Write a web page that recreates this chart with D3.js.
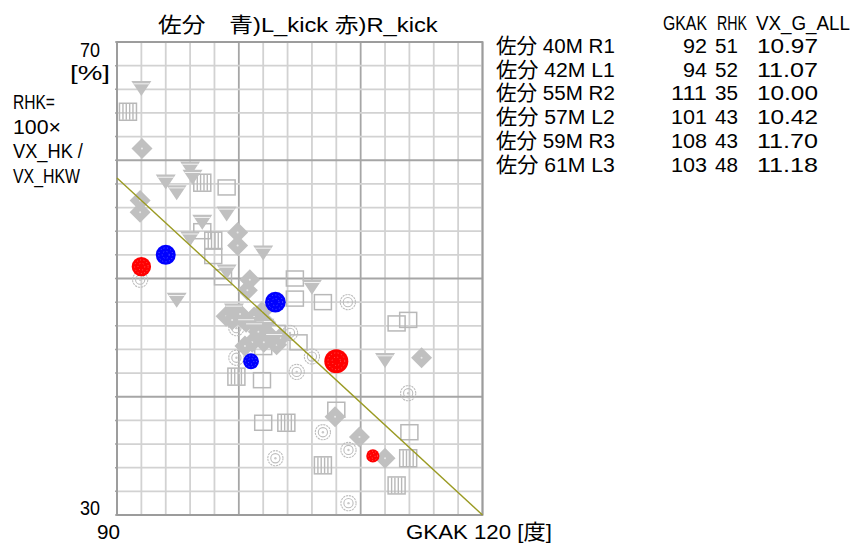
<!DOCTYPE html>
<html>
<head>
<meta charset="utf-8">
<script src="https://cdn.jsdelivr.net/npm/d3@7/dist/d3.min.js"></script>
<style>
  html, body { margin: 0; padding: 0; background: #fff; }
  svg { display: block; }
  text { font-family: "Liberation Sans Narrow", "Liberation Sans", "Noto Sans CJK JP", sans-serif; fill: #000; }
</style>
</head>
<body>
<svg id="chart" width="859" height="545"></svg>
<script>
// Kicks of the highlighted player (R = right foot, L = left foot)
const kicks  = ["佐分 40M R1", "佐分 42M L1", "佐分 55M R2", "佐分 57M L2", "佐分 59M R3", "佐分 61M L3"];
const gkak   = [92, 94, 111, 101, 108, 103];
const rhk    = [51, 52, 35, 43, 43, 48];
const vxGAll = [10.97, 11.07, 10.00, 10.42, 11.70, 11.18];

// Reference kicks of other players, one marker per group: [GKAK, RHK]
const refTriangle = [[92,66.1],[96,59.3],[96.2,58.6],[94,58.2],[94.9,57.3],[99,55.5],[97,54.8],[96,53.4],
  [102,52.2],[99,50.6],[94.9,48.2],[106,49.3],[112,43.1],[100.6,46.15],[102.1,46.0],[99.6,47.3],
  [101.25,45.8],[102.9,44.9]];
const refSquare = [[99,57.7],[97,54.0],[97.9,51.9],[98.7,50.1],[104.6,50.0],[104.6,48.3],[106.9,48.0],
  [112.95,46.2],[113.9,46.5],[104.9,44.6],[101.9,41.4],[102,37.8],[108,38.9],[114,37],[102,44.2],[103.1,45.4]];
const refStriped = [[90.9,64.1],[97,58.1],[97.9,53.2],[99.8,41.7],[103.9,37.8],[106.9,34.2],[113.9,34.8],[112.95,32.5]];
const refDiamond = [[92.05,61.0],[91.9,56.6],[91.9,55.6],[99.9,53.9],[99.9,52.8],[100.9,49.9],[100.7,49.0],
  [115,43.3],[107.9,38.3],[109.9,36.6],[112,34.8],
  [98.95,46.8],[100.1,47.0],[101.25,46.75],[102.2,46.3],[101.6,45.5],[102.6,45.1],[101.1,44.6],[103.1,44.4],
  [99.45,46.5],[101.9,47.2],[100.6,46.3],[102.05,44.6],[103.4,45.0],[100.5,44.3]];
const refRing = [[91.9,49.9],[99.8,45.8],[99.8,43.3],[104.75,42.1],[108.95,48.0],[104.2,45.4],[106,43.4],
  [113.9,40.3],[106.9,37.0],[109,35.5],[103,34.8],[109,31.0]];

// Fitted trend line endpoints
const trend = [[90, 58.5], [120, 30]];

const xDomain = [90, 120];
const yDomain = [30, 70];
const headers = ["GKAK", "RHK", "VX_G_ALL"];
const yNote = ["RHK=", "100×", "VX_HK /", "VX_HKW"];

const svg = d3.select("#chart");
const plot = { left: 117, right: 482.5, top: 42, bottom: 515 };

const x = d3.scaleLinear().domain(xDomain).range([plot.left, plot.right]);
const y = d3.scaleLinear().domain(yDomain).range([plot.bottom, plot.top]);
const radius = d3.scaleLinear().domain([10, 11.7]).range([6.6, 12]);

svg.append("rect").attr("width", 859).attr("height", 545).attr("fill", "#fff");

// Grid: minor every 2 units, heavier every 10
const grid = svg.append("g");
const xt = d3.range(xDomain[0], xDomain[1] + 0.001, 2);
const yt = d3.range(yDomain[0], yDomain[1] + 0.001, 2);
grid.selectAll("line.vx").data(xt).join("line")
  .attr("x1", d => x(d)).attr("x2", d => x(d))
  .attr("y1", plot.top).attr("y2", plot.bottom)
  .attr("stroke", d => d % 10 === 0 ? "#a6a6a6" : "#d2d2d2")
  .attr("stroke-width", 1.8);
grid.selectAll("line.hy").data(yt).join("line")
  .attr("y1", d => y(d)).attr("y2", d => y(d))
  .attr("x1", plot.left).attr("x2", plot.right)
  .attr("stroke", d => d % 10 === 0 ? "#a6a6a6" : "#d2d2d2")
  .attr("stroke-width", 1.8);
// small ticks left of the frame
grid.selectAll("line.tk").data(yt).join("line")
  .attr("y1", d => y(d)).attr("y2", d => y(d))
  .attr("x1", plot.left - 2).attr("x2", plot.left)
  .attr("stroke", "#a6a6a6").attr("stroke-width", 1.5);
grid.append("rect")
  .attr("x", plot.left).attr("y", plot.top)
  .attr("width", plot.right - plot.left).attr("height", plot.bottom - plot.top)
  .attr("fill", "none").attr("stroke", "#9c9c9c").attr("stroke-width", 1.8);

const gray = "#c0c0c0";
const marks = svg.append("g");
const at = d => `translate(${x(d[0])},${y(d[1])})`;

// ring markers
const rings = marks.selectAll("g.ring").data(refRing).join("g").attr("transform", at);
rings.append("circle").attr("r", 7.6).attr("fill", "none").attr("stroke", "#bdbdbd").attr("stroke-width", 1.1)
  .attr("stroke-dasharray", "2.2 0.8");
rings.append("circle").attr("r", 4.6).attr("fill", "none").attr("stroke", "#bdbdbd").attr("stroke-width", 1.1);
rings.append("circle").attr("r", 1.2).attr("fill", "#c8c8c8");

// hollow squares
marks.selectAll("rect.sq").data(refSquare).join("rect")
  .attr("x", d => x(d[0]) - 8.5).attr("y", d => y(d[1]) - 7.5)
  .attr("width", 17).attr("height", 15)
  .attr("fill", "none").attr("stroke", "#b8b8b8").attr("stroke-width", 1.5);

// striped squares
const striped = marks.selectAll("g.st").data(refStriped).join("g").attr("transform", at);
striped.append("rect").attr("x", -8.5).attr("y", -8.5).attr("width", 17).attr("height", 17)
  .attr("fill", "none").attr("stroke", "#b8b8b8").attr("stroke-width", 1.5);
striped.selectAll("line").data([-5, -1.7, 1.7, 5]).join("line")
  .attr("x1", d => d).attr("x2", d => d).attr("y1", -8).attr("y2", 8)
  .attr("stroke", "#b8b8b8").attr("stroke-width", 1.4);

// filled diamonds
const dia = marks.selectAll("g.dm").data(refDiamond).join("g").attr("transform", at);
dia.append("path").attr("d", "M0,-10.5L10.5,0L0,10.5L-10.5,0Z").attr("fill", gray);
dia.append("circle").attr("r", 1).attr("fill", "#e8e8e8");

// downward triangles with a light band near the top
const tri = marks.selectAll("g.tr").data(refTriangle).join("g").attr("transform", at);
tri.append("path").attr("d", "M-10,-7L10,-7L0,8Z").attr("fill", gray);
tri.append("line").attr("x1", -8).attr("x2", 8).attr("y1", -4.3).attr("y2", -4.3)
  .attr("stroke", "#f2f2f2").attr("stroke-width", 1);

// highlighted kicks, sized by VX_G_ALL, with a faint dotted texture
const kickData = kicks.map((k, i) => ({ k, gx: gkak[i], ry: rhk[i], v: vxGAll[i], side: k.trim().slice(-2, -1) }));
const kg = marks.selectAll("g.kick").data(kickData).join("g")
  .attr("transform", d => `translate(${x(d.gx)},${y(d.ry)})`);
kg.append("circle").attr("r", d => radius(d.v))
  .attr("fill", d => d.side === "R" ? "#ff0000" : "#0000ff");
[0.35, 0.7].forEach(f => {
  kg.append("circle").attr("r", d => radius(d.v) * f)
    .attr("fill", "none").attr("stroke", "#fff").attr("stroke-opacity", 0.55)
    .attr("stroke-width", 0.7).attr("stroke-dasharray", "0.8 2.6");
});

// trend line
svg.append("line")
  .attr("x1", x(trend[0][0])).attr("y1", y(trend[0][1]))
  .attr("x2", x(trend[1][0])).attr("y2", y(trend[1][1]))
  .attr("stroke", "#9a9a22").attr("stroke-width", 1.4);

// text: drawn at a fixed size, then condensed horizontally to the wanted width
const txt = (s, tx, ty, len, anchor) => {
  const g = svg.append("g");
  const t = g.append("text").attr("font-size", 21).text(s);
  const natural = t.node().getComputedTextLength();
  const sx = len ? len / natural : 1;
  const w = natural * sx;
  const left = anchor === "end" ? tx - w : tx;
  g.attr("transform", `translate(${left},${ty}) scale(${sx},1)`);
  return g;
};

txt("佐分　青)L_kick 赤)R_kick", 158, 32, 280);
txt(String(yDomain[1]), 100, 57, 20, "end");
txt("[%]", 70, 80, 40);
const noteLen = [42, 48, 70, 67];
yNote.forEach((s, i) => txt(s, 13, 109 + i * 24.5, noteLen[i]));
txt(String(yDomain[0]), 100, 515, 20, "end");
txt(String(xDomain[0]), 97, 539, 23);
txt("GKAK " + xDomain[1] + " [度]", 406, 539, 146);

// summary table
const headX = [663, 717, 756];
const headW = [44, 30, 94];
headers.forEach((h, i) => txt(h, headX[i], 30, headW[i]));
kicks.forEach((k, i) => {
  const by = 53 + i * 23.7;
  txt(k, 496, by, 119);
  txt(String(gkak[i]), 707, by, String(gkak[i]).length * 12, "end");
  txt(String(rhk[i]), 715, by, 23);
  txt(vxGAll[i].toFixed(2), 757, by, 61);
});
</script>
</body>
</html>
